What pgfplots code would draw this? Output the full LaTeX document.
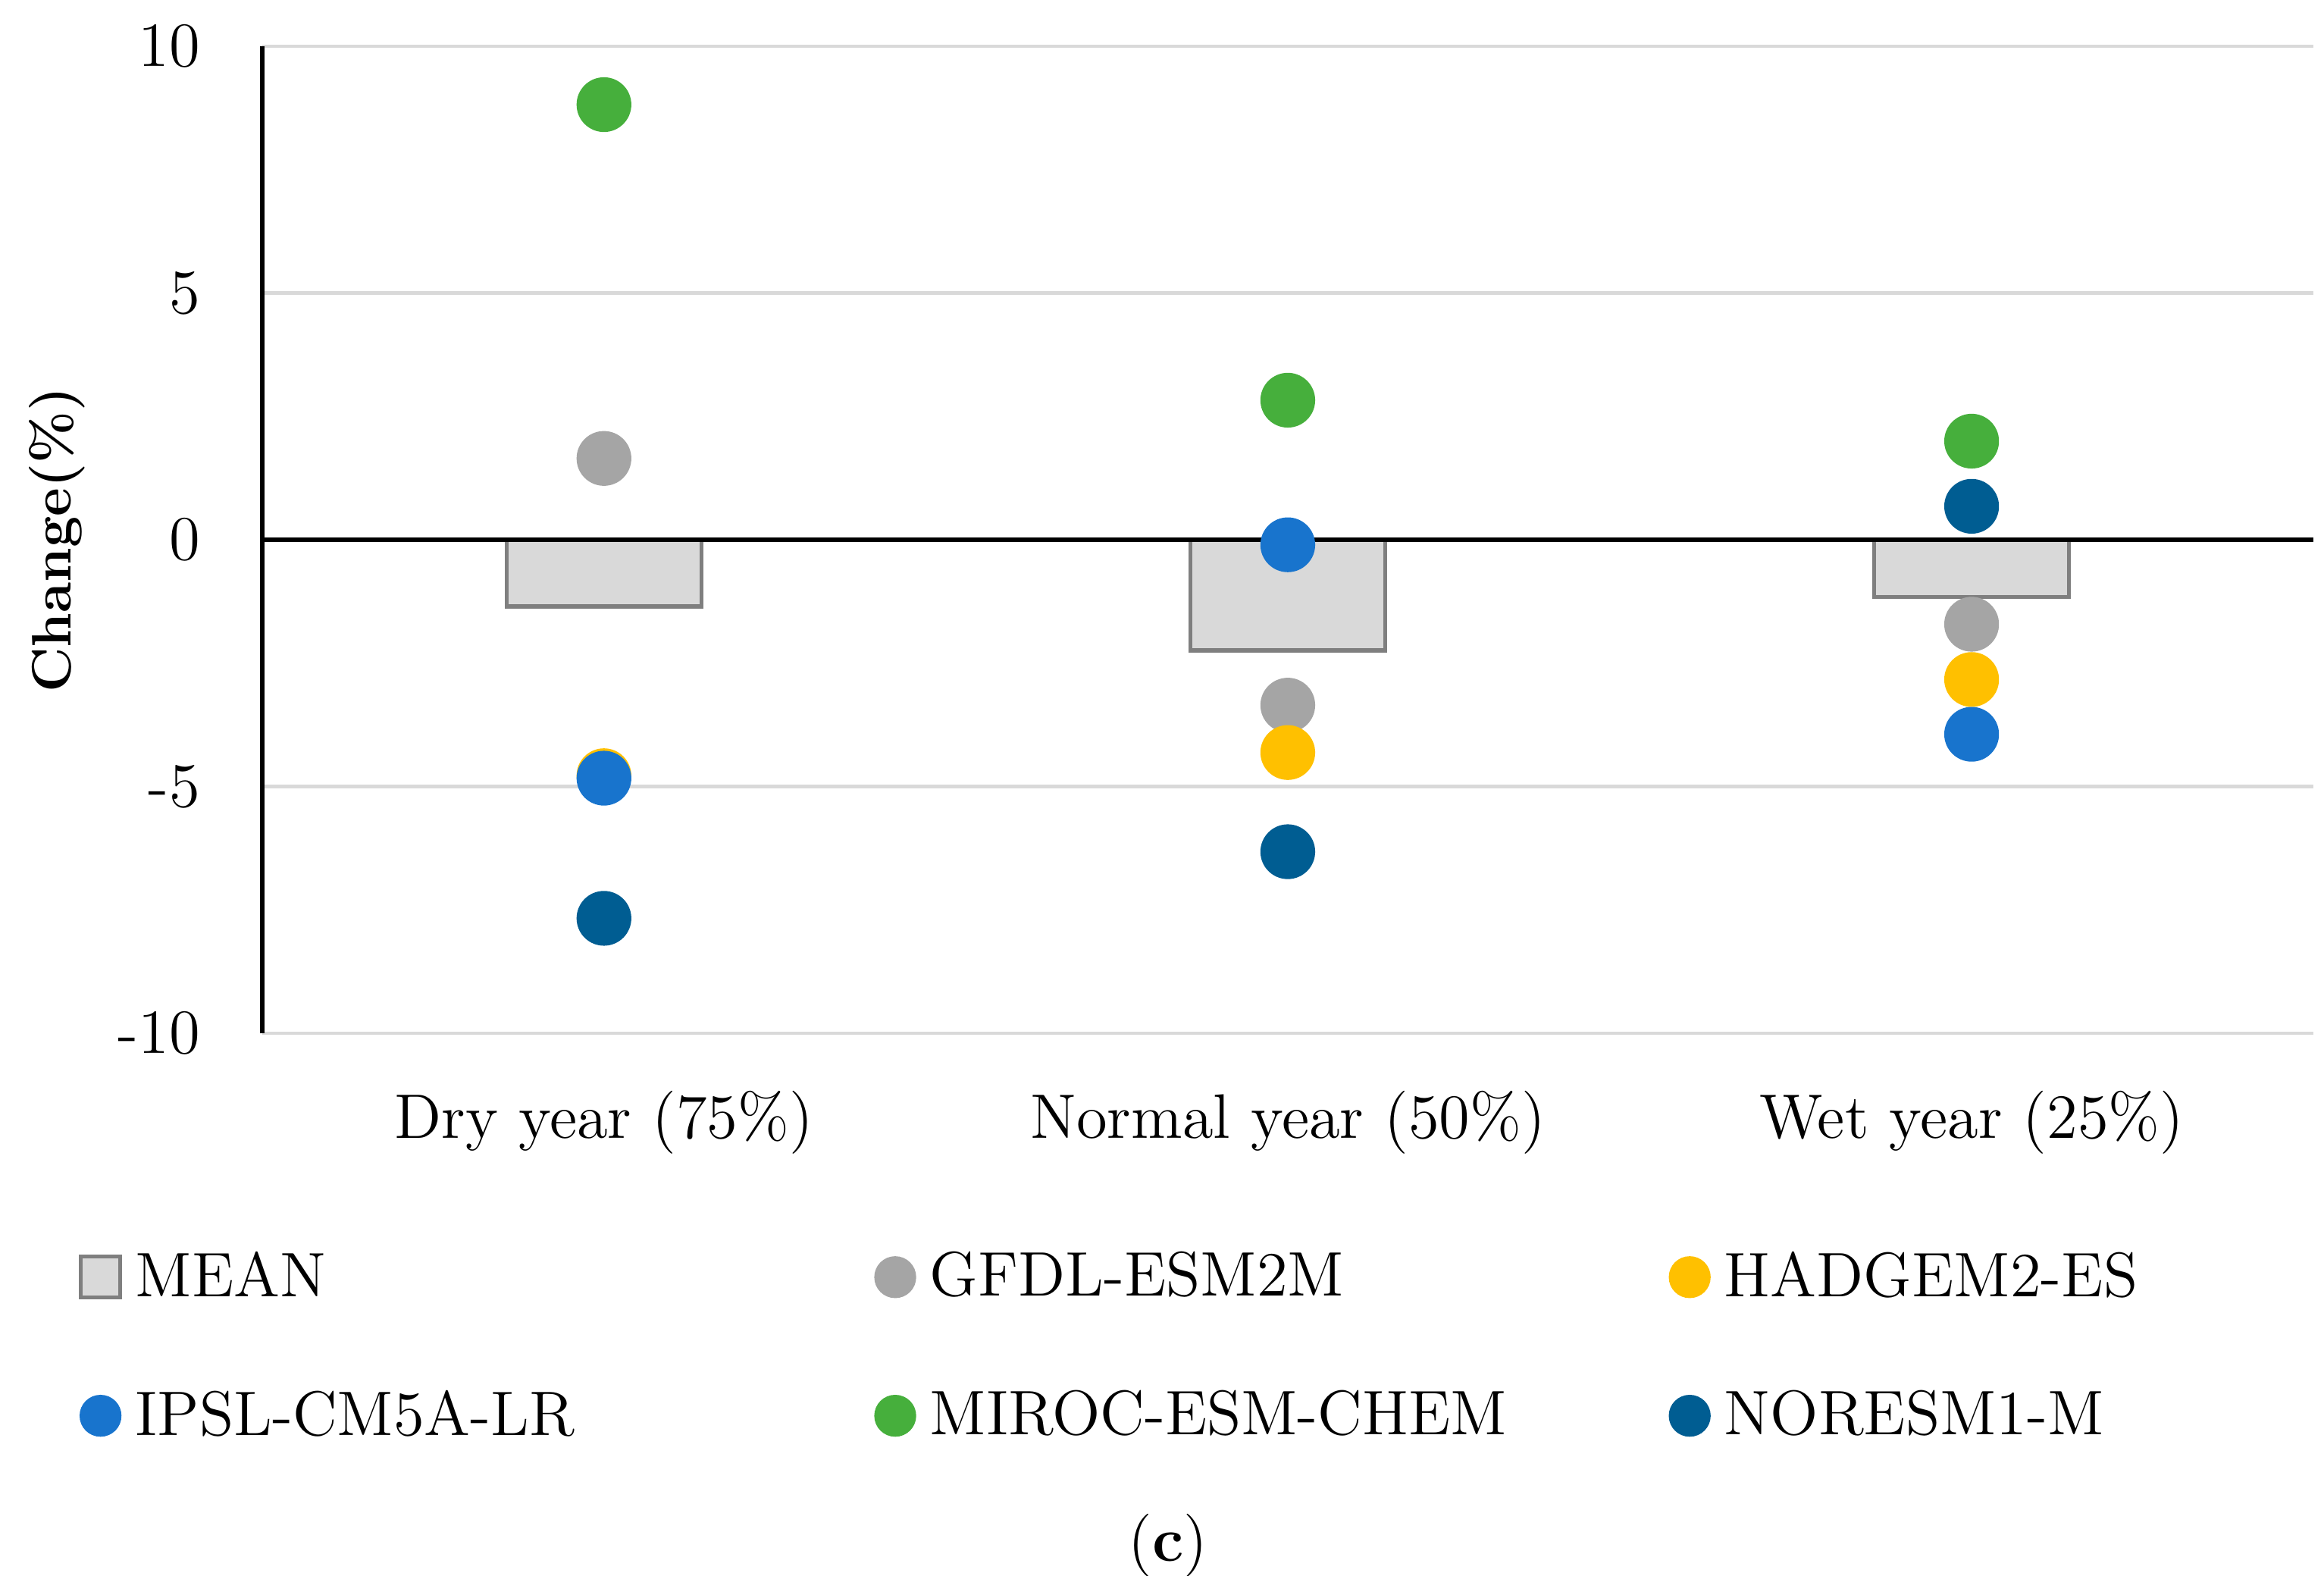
\documentclass[border=0pt]{standalone}
\usepackage{pgfplots}
\pgfplotsset{compat=1.18}
\definecolor{meanfill}{HTML}{D9D9D9}
\definecolor{meanedge}{HTML}{7F7F7F}
\definecolor{gridc}{HTML}{D9D9D9}
\definecolor{gfdl}{HTML}{A5A5A5}
\definecolor{hadgem}{HTML}{FFC000}
\definecolor{ipsl}{HTML}{1874CD}
\definecolor{miroc}{HTML}{46AF3C}
\definecolor{noresm}{HTML}{005D92}
\newcommand{\bigf}{\fontsize{14.7}{17}\selectfont}
\pgfplotsset{
  mylegmark/.style={legend image code/.code={\path[draw=none,fill=none] (-5pt,-5pt) rectangle (5pt,5pt); \fill[#1, draw=none] (0pt,0pt) circle (4.9pt);}},
  mymark/.style={only marks, mark=*, mark size=6.2pt, color=#1, mark options={solid}, mylegmark=#1}
}
\begin{document}
\begin{tikzpicture}
\begin{axis}[name=ax, scale only axis, width=479.5pt, height=230.65pt,
  xmin=-0.5, xmax=2.5, ymin=-10, ymax=10,
  axis lines*=left,
  x axis line style={draw=none},
  y axis line style={black, line width=1.1pt},
  ytick={-10,-5,0,5,10}, yticklabels={-10,-5,0,5,10},
  xtick={0,1,2}, xticklabels={Dry year (75\%), Normal year (50\%), Wet year (25\%)},
  major tick length=0pt,
  ymajorgrids, major grid style={gridc, line width=0.8pt},
  tick label style={font=\bigf},
  yticklabel style={xshift=-11pt},
  xticklabel style={yshift=-10pt},
  ylabel={Change(\%)},
  ylabel style={font=\bfseries\fontsize{13}{15}\selectfont, at={(axis description cs:-0.1,0.5)}, anchor=center},
  legend style={at={(axis description cs:-0.08926,-0.2211)}, anchor=north west, draw=none, fill=none,
    inner sep=0pt, outer sep=0pt, font=\bigf, legend columns=3, row sep=20.4pt,
    nodes={inner sep=0pt},
    /tikz/every odd column/.append style={column sep=3.1pt},
    /tikz/every even column/.append style={column sep=0pt}},
  legend cell align=left,
  clip=false]
\addplot[ybar, bar width=45.5pt, fill=meanfill, draw=meanedge, line width=0.9pt,
  legend image code/.code={\draw[fill=meanfill, draw=meanedge, line width=0.9pt] (-4.6pt,-4.8pt) rectangle (4.6pt,4.8pt);}]
  coordinates {(0,-1.35) (1,-2.24) (2,-1.16)};
\addlegendentry{\makebox[172.6pt][l]{MEAN}}
\addplot[black, line width=1.1pt, forget plot] coordinates {(-0.5,0) (2.5,0)};
\addplot[mymark=gfdl] coordinates {(0,1.65) (1,-3.35) (2,-1.71)};
\addlegendentry{\makebox[172.6pt][l]{GFDL-ESM2M}}
\addplot[mymark=hadgem] coordinates {(0,-4.78) (1,-4.31) (2,-2.83)};
\addlegendentry{HADGEM2-ES}
\addplot[mymark=ipsl] coordinates {(0,-4.83) (1,-0.10) (2,-3.94)};
\addlegendentry{\makebox[172.6pt][l]{IPSL-CM5A-LR}}
\addplot[mymark=miroc] coordinates {(0,8.82) (1,2.83) (2,2.00)};
\addlegendentry{\makebox[172.6pt][l]{MIROC-ESM-CHEM}}
\addplot[mymark=noresm] coordinates {(0,-7.67) (1,-6.32) (2,0.68)};
\addlegendentry{NORESM1-M}
\end{axis}
\node at ([shift={(211.75pt,-119.7pt)}]ax.south west) {\bigf(\textbf{c})};
\pgfresetboundingbox
\path[use as bounding box] ([shift={(-61.25pt,-126.8pt)}]ax.south west) rectangle ([shift={(2.45pt,10.85pt)}]ax.north east);
\end{tikzpicture}
\end{document}
